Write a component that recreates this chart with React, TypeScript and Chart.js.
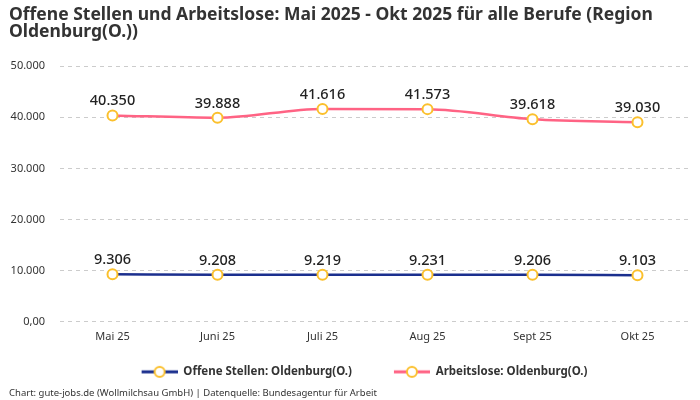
import { useEffect, useRef } from 'react';
import { Chart, registerables } from 'chart.js';

Chart.register(...registerables);

const months = ['Mai 25', 'Juni 25', 'Juli 25', 'Aug 25', 'Sept 25', 'Okt 25'];
const offeneStellen = [9306, 9208, 9219, 9231, 9206, 9103];
const arbeitslose = [40350, 39888, 41616, 41573, 39618, 39030];

const FONT = '"Noto Sans", sans-serif';
const BLUE = '#1b2f8e';
const PINK = '#ff6384';
const YELLOW = '#fbc02d';

// German thousands separator
const fmt = (v: number) => {
  if (v === 0) return '0,00';
  return String(Math.round(v)).replace(/\B(?=(\d{3})+(?!\d))/g, '.');
};

// legend marker: line with hollow circle, transparent gap on the left for item spacing
const GAP = 30;
function legendMarker(color: string) {
  const c = document.createElement('canvas');
  c.width = 36 + GAP;
  c.height = 14;
  const ctx = c.getContext('2d')!;
  ctx.strokeStyle = color;
  ctx.lineWidth = 3;
  ctx.beginPath();
  ctx.moveTo(GAP, 7);
  ctx.lineTo(GAP + 36, 7);
  ctx.stroke();
  ctx.beginPath();
  ctx.arc(GAP + 18, 7, 5, 0, Math.PI * 2);
  ctx.fillStyle = '#fff';
  ctx.fill();
  ctx.strokeStyle = YELLOW;
  ctx.lineWidth = 2;
  ctx.stroke();
  return c;
}

const valueLabels = {
  id: 'valueLabels',
  afterDatasetsDraw(chart: Chart) {
    const ctx = chart.ctx;
    ctx.save();
    ctx.font = `500 14.5px ${FONT}`;
    ctx.fillStyle = '#222';
    ctx.textAlign = 'center';
    ctx.textBaseline = 'bottom';
    chart.data.datasets.forEach((ds, i) => {
      const meta = chart.getDatasetMeta(i);
      meta.data.forEach((pt: any, j: number) => {
        ctx.fillText(fmt(ds.data[j] as number), pt.x, pt.y - 7);
      });
    });
    ctx.restore();
  },
};

export default function App() {
  const canvasRef = useRef<HTMLCanvasElement>(null);

  useEffect(() => {
    document.body.style.margin = '0';
    if (!canvasRef.current) return;
    const markers = [legendMarker(BLUE), legendMarker(PINK)];

    const chart = new Chart(canvasRef.current, {
      type: 'line',
      data: {
        labels: months,
        datasets: [
          {
            label: 'Offene Stellen: Oldenburg(O.)',
            data: offeneStellen,
            borderColor: BLUE,
            backgroundColor: BLUE,
            borderWidth: 2.5,
            cubicInterpolationMode: 'monotone',
            pointBackgroundColor: '#fff',
            pointBorderColor: YELLOW,
            pointBorderWidth: 2,
            pointRadius: 5,
          },
          {
            label: 'Arbeitslose: Oldenburg(O.)',
            data: arbeitslose,
            borderColor: PINK,
            backgroundColor: PINK,
            borderWidth: 2.5,
            cubicInterpolationMode: 'monotone',
            pointBackgroundColor: '#fff',
            pointBorderColor: YELLOW,
            pointBorderWidth: 2,
            pointRadius: 5,
          },
        ],
      },
      options: {
        animation: false,
        responsive: false,
        layout: { padding: { left: 9, right: 10, top: 1, bottom: 0 } },
        scales: {
          x: {
            offset: true,
            grid: { display: false, drawTicks: false },
            border: { display: false },
            ticks: { color: '#333', font: { family: FONT, size: 11 }, padding: 8 },
            afterFit: (scale) => {
              scale.height += 3;
            },
          },
          y: {
            min: 0,
            max: 50000,
            border: { display: false, dash: [4, 4] },
            grid: { color: '#ccc', drawTicks: false },
            ticks: {
              stepSize: 10000,
              color: '#333',
              padding: 15,
              font: { family: FONT, size: 11 },
              callback: (v) => fmt(Number(v)),
            },
            afterFit: (scale) => {
              scale.width = 51;
            },
          },
        },
        plugins: {
          title: {
            display: true,
            text: [
              'Offene Stellen und Arbeitslose: Mai 2025 - Okt 2025 für alle Berufe (Region',
              'Oldenburg(O.))',
            ],
            align: 'start',
            color: '#333',
            font: { family: FONT, size: 17.5, weight: 'bold', lineHeight: 1.0 },
            padding: { top: 5, bottom: 25 },
          },
          subtitle: {
            display: true,
            position: 'bottom',
            align: 'start',
            text: 'Chart: gute-jobs.de (Wollmilchsau GmbH) | Datenquelle: Bundesagentur für Arbeit',
            color: '#333',
            font: { family: FONT, size: 9.5 },
            padding: { top: 0, bottom: 1 },
          },
          legend: {
            position: 'bottom',
            labels: {
              usePointStyle: true,
              pointStyleWidth: 36 + GAP,
              padding: 12,
              color: '#333',
              font: { family: FONT, size: 11.5, weight: 'bold' },
              generateLabels: (c: Chart) =>
                Chart.defaults.plugins.legend.labels
                  .generateLabels(c)
                  .map((l: any, i: number) => ({ ...l, pointStyle: markers[i] })),
            },
          },
          tooltip: { enabled: false },
        },
      },
      plugins: [valueLabels],
    });

    return () => chart.destroy();
  }, []);

  return <canvas ref={canvasRef} width={700} height={400} style={{ display: 'block' }} />;
}
